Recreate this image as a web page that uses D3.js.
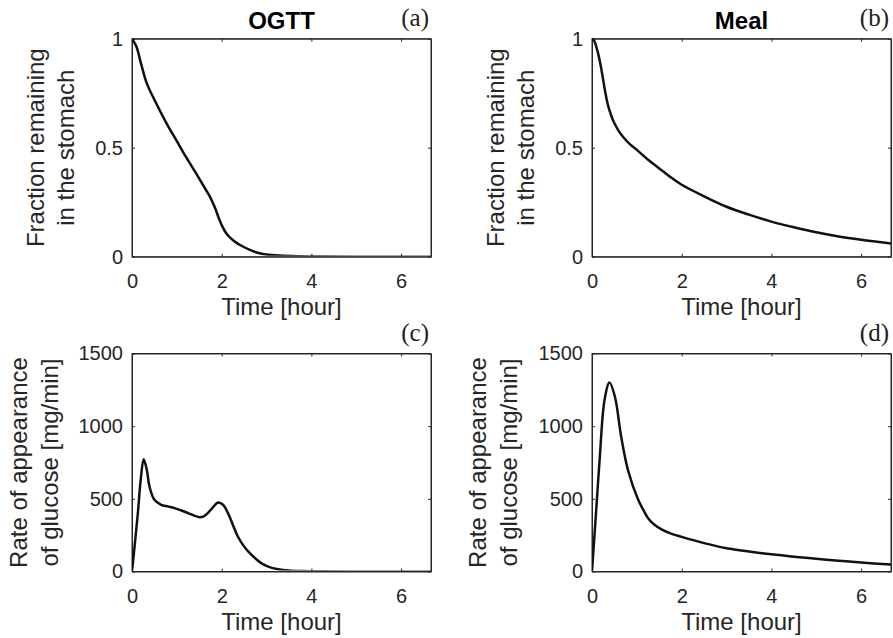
<!DOCTYPE html>
<html>
<head>
<meta charset="utf-8">
<script src="https://cdn.jsdelivr.net/npm/d3@7"></script>
<style>
  body { margin: 0; background: #fff; }
  svg { display: block; }
  .tick text { font-family: "Liberation Sans", Arial, sans-serif; font-size: 20px; fill: #262626; }
  .lab { font-family: "Liberation Sans", Arial, sans-serif; font-size: 24px; fill: #262626; }
  .ttl { font-family: "Liberation Sans", Arial, sans-serif; font-size: 24px; font-weight: bold; fill: #000; }
  .tag { font-family: "Liberation Serif", "DejaVu Serif", serif; font-size: 25px; fill: #222; }
</style>
</head>
<body>
<svg id="chart" width="893" height="638"></svg>
<script>
// (a) OGTT - fraction remaining in stomach
var ogttFracT = [0, 0.1, 0.2, 0.33, 0.5, 0.77, 1.0, 1.2, 1.45, 1.65, 1.75, 1.85, 1.93, 2.0, 2.1, 2.2, 2.3, 2.45, 2.63, 2.8, 3.0, 3.3, 3.7, 4.2, 5, 6, 6.67];
var ogttFrac  = [1, 0.963, 0.887, 0.795, 0.72, 0.612, 0.53, 0.459, 0.375, 0.306, 0.27, 0.225, 0.18, 0.145, 0.108, 0.085, 0.068, 0.049, 0.031, 0.018, 0.01, 0.005, 0.002, 0.001, 0, 0, 0];

// (b) Meal - fraction remaining in stomach
var mealFracT = [0, 0.05, 0.1, 0.15, 0.2, 0.25, 0.3, 0.35, 0.4, 0.45, 0.5, 0.6, 0.7, 0.85, 1.0, 1.25, 1.5, 1.75, 2, 2.5, 3, 3.5, 4, 4.5, 5, 5.5, 6, 6.67];
var mealFrac  = [1, 0.99, 0.96, 0.92, 0.87, 0.81, 0.75, 0.70, 0.665, 0.635, 0.612, 0.575, 0.548, 0.515, 0.49, 0.445, 0.405, 0.365, 0.33, 0.277, 0.229, 0.193, 0.161, 0.135, 0.112, 0.093, 0.078, 0.061];

// (c) OGTT - rate of appearance of glucose [mg/min]
var ogttRaT = [0, 0.06, 0.13, 0.2, 0.26, 0.33, 0.39, 0.5, 0.65, 0.8, 0.95, 1.1, 1.25, 1.4, 1.51, 1.6, 1.69, 1.8, 1.92, 2.03, 2.14, 2.25, 2.36, 2.47, 2.59, 2.75, 2.88, 3.05, 3.26, 3.5, 3.8, 4.2, 5, 6, 6.67];
var ogttRa  = [0, 180, 400, 650, 773, 700, 585, 493, 459, 448, 436, 420, 402, 383, 374, 380, 402, 440, 475, 459, 402, 320, 241, 185, 138, 90, 58, 32, 16, 7, 3, 1, 0, 0, 0];

// (d) Meal - rate of appearance of glucose [mg/min]
var mealRaT = [0, 0.08, 0.17, 0.28, 0.39, 0.51, 0.65, 0.8, 1.03, 1.15, 1.25, 1.4, 1.55, 1.75, 2.0, 2.5, 3.0, 3.5, 4.0, 4.5, 5, 5.5, 6, 6.67];
var mealRa  = [0, 360, 768, 1181, 1300, 1204, 929, 700, 493, 420, 367, 320, 290, 262, 238, 195, 160, 137, 118, 102, 88, 74, 62, 48];

var xTicks = [0, 2, 4, 6];
var fracTicks = [0, 0.5, 1];
var raTicks = [0, 500, 1000, 1500];
var titles = ["OGTT", "Meal"];
var tags = ["(a)", "(b)", "(c)", "(d)"];
var fracLabel = ["Fraction remaining", "in the stomach"];
var raLabel = ["Rate of appearance", "of glucose [mg/min]"];
var xLabel = "Time [hour]";

var svg = d3.select("#chart");
var W = 299, H = 218;

var panels = [
  {left: 132, top: 38.7, t: ogttFracT, v: ogttFrac, ymax: 1, ticks: fracTicks, ylab: fracLabel, off: [88, 58], title: titles[0], tag: tags[0]},
  {left: 592, top: 38.7, t: mealFracT, v: mealFrac, ymax: 1, ticks: fracTicks, ylab: fracLabel, off: [88, 58], title: titles[1], tag: tags[1]},
  {left: 132, top: 353.5, t: ogttRaT, v: ogttRa, ymax: 1500, ticks: raTicks, ylab: raLabel, off: [105, 74], tag: tags[2]},
  {left: 592, top: 353.5, t: mealRaT, v: mealRa, ymax: 1500, ticks: raTicks, ylab: raLabel, off: [106, 75], tag: tags[3]}
];

panels.forEach(function(p) {
  var g = svg.append("g").attr("transform", "translate(" + p.left + "," + p.top + ")");
  var x = d3.scaleLinear().domain([0, 400 / 60]).range([0, W]);
  var y = d3.scaleLinear().domain([0, p.ymax]).range([H, 0]);

  // clip so the smoothed line stays in the box
  var cid = "clip" + p.tag.charAt(1);
  g.append("clipPath").attr("id", cid).append("rect")
    .attr("x", 0).attr("y", -2).attr("width", W).attr("height", H + 1);

  // axes (ticks inside, box on)
  var ax = g.append("g").attr("transform", "translate(0," + H + ")")
    .call(d3.axisBottom(x).tickValues(xTicks).tickSizeInner(-3).tickSizeOuter(0).tickPadding(17).tickFormat(d3.format("d")));
  g.append("g")
    .call(d3.axisLeft(y).tickValues(p.ticks).tickSizeInner(-3).tickSizeOuter(0).tickPadding(9).tickFormat(function(d) { return String(d); }));
  g.append("g").call(d3.axisTop(x).tickValues(xTicks).tickSizeInner(-3).tickSizeOuter(0).tickFormat(""));
  g.append("g").attr("transform", "translate(" + W + ",0)")
    .call(d3.axisRight(y).tickValues(p.ticks).tickSizeInner(-3).tickSizeOuter(0).tickFormat(""));
  g.selectAll(".domain").attr("stroke", "#262626");
  g.selectAll(".tick line").attr("stroke", "#262626");
  ax.selectAll(".tick text").attr("dy", "0.71em");
  g.append("rect").attr("width", W).attr("height", H)
    .attr("fill", "none").attr("stroke", "#262626").attr("stroke-width", 1);

  var data = p.t.map(function(t, i) { return [t, p.v[i]]; });
  var line = d3.line()
    .x(function(d) { return x(d[0]); })
    .y(function(d) { return y(d[1]); })
    .curve(d3.curveCatmullRom.alpha(0.5));
  g.append("path").datum(data)
    .attr("d", line)
    .attr("clip-path", "url(#" + cid + ")")
    .attr("fill", "none")
    .attr("stroke", "#111")
    .attr("stroke-width", 2.5)
    .attr("stroke-linejoin", "round");

  // labels
  g.append("text").attr("class", "lab")
    .attr("x", W / 2).attr("y", H + 58)
    .attr("text-anchor", "middle").text(xLabel);
  p.ylab.forEach(function(s, i) {
    g.append("text").attr("class", "lab")
      .attr("transform", "translate(" + (-p.off[i]) + "," + (H / 2) + ") rotate(-90)")
      .attr("text-anchor", "middle").text(s);
  });
  if (p.title) {
    g.append("text").attr("class", "ttl")
      .attr("x", W / 2).attr("y", -10)
      .attr("text-anchor", "middle").text(p.title);
  }
  g.append("text").attr("class", "tag")
    .attr("x", W - 2).attr("y", -13)
    .attr("text-anchor", "end").text(p.tag);
});
</script>
</body>
</html>
